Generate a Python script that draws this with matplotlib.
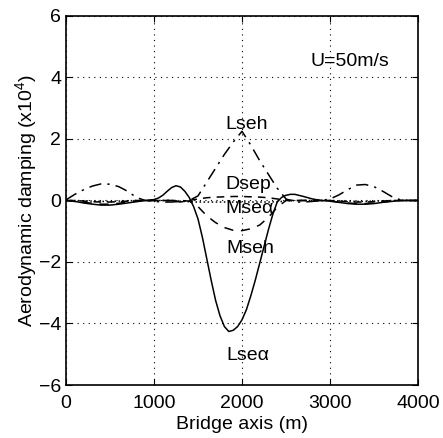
"""
Aerodynamic damping along the bridge axis, U=50m/s
"""

import numpy as np
import matplotlib
matplotlib.use('Agg')
from matplotlib import pyplot as plt

plt.rcParams['font.family'] = ['Liberation Sans', 'DejaVu Sans']
plt.rcParams['mathtext.fontset'] = 'custom'
plt.rcParams['mathtext.rm'] = 'Liberation Sans'
plt.rcParams['mathtext.it'] = 'Liberation Sans'

# bridge axis positions (m)
x = [0, 100, 200, 300, 400, 500, 600, 700, 800, 900,
     1000, 1100, 1200, 1300, 1400, 1500, 1600, 1700, 1800, 1900,
     2000, 2100, 2200, 2300, 2400, 2500, 2600, 2700, 2800, 2900,
     3000, 3100, 3200, 3300, 3400, 3500, 3600, 3700, 3800, 3900, 4000]

# finer positions for the Lse-alpha curve (m)
x_fine = [0, 100, 200, 300, 400, 500, 600, 700, 800, 900,
          1000, 1050, 1100, 1150, 1200, 1250, 1300, 1350, 1400, 1450,
          1500, 1550, 1600, 1650, 1700, 1750, 1800, 1850, 1900, 1950,
          2000, 2050, 2100, 2150, 2200, 2250, 2300, 2350, 2400, 2450,
          2500, 2550, 2600, 2700, 2800, 2900,
          3000, 3100, 3200, 3300, 3400, 3500, 3600, 3700, 3800, 3900, 4000]

# damping values (x10^4)
lse_alpha = [0, -0.03, -0.08, -0.12, -0.15, -0.15, -0.12, -0.08, -0.04, 0.0,
             0.03, 0.08, 0.17, 0.3, 0.42, 0.48, 0.44, 0.3, 0.1, -0.2,
             -0.6, -1.2, -1.9, -2.6, -3.25, -3.75, -4.1, -4.26, -4.22, -4.1,
             -3.88, -3.55, -3.1, -2.6, -2.05, -1.5, -0.95, -0.45, -0.05, 0.1,
             0.17, 0.2, 0.2, 0.13, 0.05, 0.0,
             -0.02, -0.06, -0.1, -0.12, -0.12, -0.1, -0.06, -0.03, 0.0, 0.0, 0.0]
lse_h = [0.02, 0.2, 0.35, 0.47, 0.54, 0.53, 0.45, 0.3, 0.1, 0.0,
         -0.03, -0.05, -0.05, -0.03, 0.0, 0.15, 0.6, 1.05, 1.5, 1.9,
         2.25, 1.8, 1.3, 0.85, 0.4, 0.05, -0.05, -0.05, -0.03, 0.0,
         0.05, 0.18, 0.35, 0.5, 0.52, 0.45, 0.3, 0.13, 0.02, 0.0, 0.0]
mse_h = [0, -0.03, -0.06, -0.09, -0.12, -0.12, -0.09, -0.05, -0.02, 0.0,
         0.0, 0.0, 0.0, 0.0, -0.02, -0.2, -0.5, -0.72, -0.88, -0.97,
         -0.98, -0.92, -0.8, -0.55, -0.22, 0.0, 0.0, 0.0, 0.0, 0.0,
         -0.02, -0.05, -0.08, -0.1, -0.1, -0.08, -0.05, -0.02, 0.0, 0.0, 0.0]
dse_p = [0, 0, -0.02, -0.04, -0.05, -0.05, -0.04, -0.02, 0, 0,
         0, 0, 0, -0.05, 0.0, 0.05, 0.09, 0.11, 0.12, 0.13,
         0.13, 0.12, 0.11, 0.09, 0.05, 0.02, 0, 0, 0, 0,
         0, -0.02, -0.04, -0.05, -0.05, -0.04, -0.02, 0, 0, 0, 0]
mse_alpha = [0, 0, -0.01, -0.02, -0.03, -0.03, -0.02, -0.01, 0, 0,
             0, 0, 0, -0.02, -0.04, -0.05, -0.05, -0.05, -0.05, -0.05,
             -0.05, -0.05, -0.05, -0.05, -0.04, -0.02, 0, 0, 0, 0,
             0, -0.01, -0.02, -0.03, -0.03, -0.02, -0.01, 0, 0, 0, 0]

labels = ['Lse\u03b1', 'Lseh', 'Mseh', 'Dsep', 'Mse\u03b1']
label_pos = [(2068, -5.03), (2057, 2.46), (2091, -1.57), (2068, 0.51), (2091, -0.25)]

fig = plt.figure(figsize=(4.43, 4.38), dpi=100)
ax = fig.add_axes([0.149, 0.121, 0.7946, 0.8425])

ax.plot(x_fine, lse_alpha, color='black', linestyle='-', linewidth=1.1)
ax.plot(x, lse_h, color='black', linestyle=(0, (8, 4, 1.5, 4)), linewidth=1.1)
ax.plot(x, mse_h, color='black', linestyle=(0, (6, 5)), linewidth=1.1)
ax.plot(x, dse_p, color='black', linestyle=(0, (5, 4)), linewidth=1.1)
ax.plot(x, mse_alpha, color='black', linestyle=':', linewidth=1.1)

for lab, (tx, ty) in zip(labels, label_pos):
    ax.text(tx, ty, lab, fontsize=14, ha='center', va='center')
ax.text(2773, 4.52, 'U=50m/s', fontsize=14, ha='left', va='center')

ax.set_xlim(0, 4000)
ax.set_ylim(-6, 6)
ax.set_xticks(np.arange(0, 4001, 1000))
ax.set_yticks(np.arange(-6, 7, 2))
ax.grid(True, color='black', linestyle=(0, (1, 4)), linewidth=0.8)
ax.tick_params(direction='in', top=True, right=True, labelsize=14, length=4)
ax.tick_params(axis='x', pad=7)
for sp in ax.spines.values():
    sp.set_linewidth(1.2)

ax.set_xlabel('Bridge axis (m)', fontsize=14, labelpad=3)
ax.set_ylabel('Aerodynamic damping (x10$^4$)', fontsize=14, labelpad=0)

fig.savefig('out.png', dpi=100)
